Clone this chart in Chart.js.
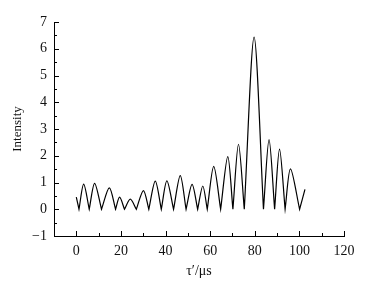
<!DOCTYPE html>
<html>
<head>
<meta charset="utf-8">
<script src="https://cdn.jsdelivr.net/npm/chart.js@4"></script>
<style>
  html, body { margin: 0; padding: 0; background: #fff; }
  #chart { display: block; }
</style>
</head>
<body>
<canvas id="chart" width="369" height="288"></canvas>
<script>
// values
const startPoint = [0, 0.45];
const endPoint = [102.5, 0.74];
const zeroT = [1.2, 5.8, 11.3, 17.6, 21.6, 26.9, 32.5, 38.1, 43.6, 49.2, 54.4, 58.7, 64.7, 70.2, 75.3, 83.9, 88.9, 93.6, 100.1];
const peakT = [3.3, 8.2, 14.8, 19.4, 24.2, 30.1, 35.4, 40.6, 46.6, 51.9, 56.7, 61.6, 67.9, 72.7, 79.7, 86.4, 91.1, 96.0];
const peakY = [0.94, 0.97, 0.80, 0.45, 0.38, 0.70, 1.05, 1.06, 1.26, 0.93, 0.87, 1.60, 1.97, 2.43, 6.44, 2.60, 2.25, 1.51];
const xTicks = [0, 20, 40, 60, 80, 100, 120];
const yTicks = [-1, 0, 1, 2, 3, 4, 5, 6, 7];

// each zero is listed twice so the spline makes a cusp there
const points = [{x: startPoint[0], y: startPoint[1]}];
for (let i = 0; i < zeroT.length; i++) {
  points.push({x: zeroT[i], y: 0});
  points.push({x: zeroT[i], y: 0});
  if (i < peakT.length) points.push({x: peakT[i], y: peakY[i]});
}
points.push({x: endPoint[0], y: endPoint[1]});

const serif = "'Liberation Serif', 'Times New Roman', serif";
const textColor = '#111';

// inward tick marks like the original
const innerTicks = {
  id: 'innerTicks',
  afterDraw(chart) {
    const ctx = chart.ctx;
    const xs = chart.scales.x, ys = chart.scales.y;
    const area = chart.chartArea;
    ctx.save();
    ctx.strokeStyle = '#000';
    ctx.lineWidth = 1;
    ctx.beginPath();
    for (let v = 0; v <= 120; v += 10) {
      const px = Math.round(xs.getPixelForValue(v)) + 0.5;
      const len = v % 20 === 0 ? 5 : 3;
      ctx.moveTo(px, area.bottom);
      ctx.lineTo(px, area.bottom - len);
    }
    for (let v = -1; v <= 7; v += 0.5) {
      const py = Math.round(ys.getPixelForValue(v)) + 0.5;
      const len = Number.isInteger(v) ? 5 : 3;
      ctx.moveTo(area.left, py);
      ctx.lineTo(area.left + len, py);
    }
    ctx.stroke();
    ctx.restore();
  }
};

new Chart(document.getElementById('chart'), {
  type: 'line',
  data: {
    datasets: [{
      data: points,
      borderColor: '#000',
      borderWidth: 1.2,
      pointRadius: 0,
      fill: false,
      tension: 0.3
    }]
  },
  options: {
    responsive: false,
    animation: false,
    layout: { padding: { left: 0, right: 25, top: 22, bottom: 0 } },
    plugins: { legend: { display: false }, tooltip: { enabled: false } },
    scales: {
      x: {
        type: 'linear',
        min: -10,
        max: 120,
        afterBuildTicks: s => { s.ticks = xTicks.map(v => ({value: v})); },
        afterFit: s => { s.height = 52; },
        grid: { display: false, drawTicks: false },
        border: { display: true, color: '#000', width: 1 },
        ticks: { color: textColor, padding: 7, maxRotation: 0, autoSkip: false,
                 font: { family: serif, size: 14 } },
        title: { display: true, text: 'τ′/μs', color: textColor,
                 padding: { top: 0, bottom: 8 }, font: { family: serif, size: 14 } }
      },
      y: {
        min: -1,
        max: 7,
        afterBuildTicks: s => { s.ticks = yTicks.map(v => ({value: v})); },
        afterFit: s => { s.width = 54; },
        grid: { display: false, drawTicks: false },
        border: { display: true, color: '#000', width: 1 },
        ticks: { color: textColor, padding: 7, autoSkip: false,
                 callback: v => v < 0 ? '\u2212' + Math.abs(v) : v,
                 font: { family: serif, size: 14 } },
        title: { display: true, text: 'Intensity', color: textColor,
                 padding: { top: 10, bottom: 0 }, font: { family: serif, size: 13 } }
      }
    }
  },
  plugins: [innerTicks]
});
</script>
</body>
</html>
